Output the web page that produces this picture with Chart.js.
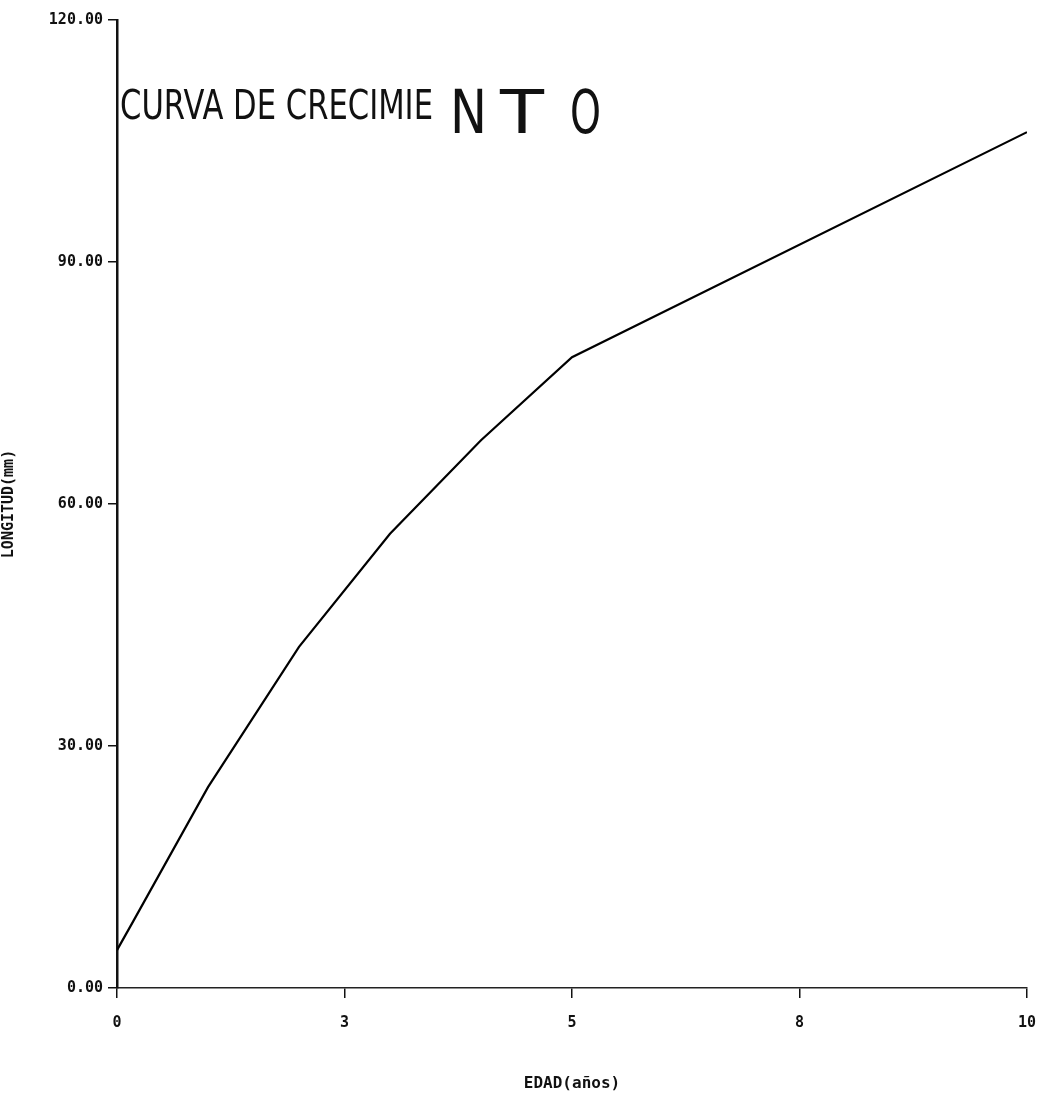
<!DOCTYPE html>
<html>
<head>
<meta charset="utf-8">
<title>Curva de crecimiento</title>
<script src="https://cdn.jsdelivr.net/npm/chart.js@4.4.1/dist/chart.umd.min.js"></script>
<style>
  html, body { margin: 0; padding: 0; background: #fff; }
  #wrap { position: relative; width: 1037px; height: 1093px; }
</style>
</head>
<body>
<div id="wrap"><canvas id="growthChart"></canvas></div>
<script>
  // edad (años) y longitud (mm)
  var edades = [0, 0.17, 1, 2, 3, 4, 5, 10];
  var longitudes = [4.7, 8.1, 24.9, 42.3, 56.3, 67.9, 78.2, 106.1];

  var yTicks = [0, 30, 60, 90, 120];
  var xTicks = [0, 2.5, 5, 7.5, 10];

  var tickFont = { family: "'DejaVu Sans Mono', monospace", size: 15, weight: 'bold' };

  // titulo dibujado a mano, imitando las letras del plotter
  var titlePlugin = {
    id: 'plotterTitle',
    afterDraw: function(chart) {
      var c = chart.ctx;
      var left = chart.chartArea.left + 3;
      c.save();
      c.fillStyle = '#111';
      c.textBaseline = 'alphabetic';

      var part1 = 'CURVA DE CRECIMIE';
      c.font = "41px 'DejaVu Sans'";
      var w1 = c.measureText(part1).width;
      c.save();
      c.translate(left, 119);
      c.scale(313 / w1, 1);
      c.fillText(part1, 0, 0);
      c.restore();

      // "NTO" sale mas grande y separado en el original
      var letras = ['N', 'T', 'O'];
      var offs = [330, 380, 450];
      var anchos = [37, 44, 31];
      c.font = "60px 'DejaVu Sans'";
      letras.forEach(function(ch, i) {
        var w = c.measureText(ch).width;
        c.save();
        c.translate(left + offs[i], 133);
        c.scale(anchos[i] / w, 1);
        c.fillText(ch, 0, 0);
        c.restore();
      });
      c.restore();
    }
  };

  var ctx = document.getElementById('growthChart').getContext('2d');
  var chart = new Chart(ctx, {
    type: 'line',
    data: {
      datasets: [{
        label: 'Longitud',
        data: edades.map(function(e, i) { return { x: e, y: longitudes[i] }; }),
        borderColor: '#000',
        borderWidth: 2.2,
        pointRadius: 0,
        tension: 0,
        fill: false
      }]
    },
    options: {
      responsive: true,
      maintainAspectRatio: false,
      animation: false,
      layout: { padding: { top: 20, right: 10, left: 0, bottom: 0 } },
      plugins: {
        legend: { display: false },
        tooltip: { enabled: false }
      },
      scales: {
        x: {
          type: 'linear',
          min: 0,
          max: 10,
          afterFit: function(scale) {
            scale.height = 105;
            scale.paddingLeft = 0;
            scale.paddingRight = 0;
          },
          afterBuildTicks: function(scale) {
            scale.ticks = xTicks.map(function(v) { return { value: v }; });
          },
          ticks: {
            color: '#111',
            font: tickFont,
            padding: 16,
            maxRotation: 0,
            callback: function(v) { return String(Math.round(v)); }
          },
          grid: { drawOnChartArea: false, drawTicks: true, tickLength: 10, color: '#111', lineWidth: 1.5 },
          border: { display: true, color: '#222', width: 1.5 },
          title: {
            display: true,
            text: 'EDAD(años)',
            color: '#111',
            font: { family: "'DejaVu Sans Mono', monospace", size: 16, weight: 'bold' },
            padding: { top: 14, bottom: 0 }
          }
        },
        y: {
          min: 0,
          max: 120,
          afterFit: function(scale) {
            scale.width = 117;
            scale.paddingTop = 0;
            scale.paddingBottom = 0;
          },
          afterBuildTicks: function(scale) {
            scale.ticks = yTicks.map(function(v) { return { value: v }; });
          },
          ticks: {
            color: '#111',
            font: tickFont,
            padding: 5,
            callback: function(v) { return v.toFixed(2); }
          },
          grid: { drawOnChartArea: false, drawTicks: true, tickLength: 9, color: '#111', lineWidth: 1.5 },
          border: { display: true, color: '#111', width: 2.5 },
          title: {
            display: true,
            text: 'LONGITUD(mm)',
            color: '#111',
            font: { family: "'DejaVu Sans Mono', monospace", size: 15, weight: 'bold' },
            padding: { top: 0, bottom: 0 }
          }
        }
      }
    },
    plugins: [titlePlugin]
  });
</script>
</body>
</html>
